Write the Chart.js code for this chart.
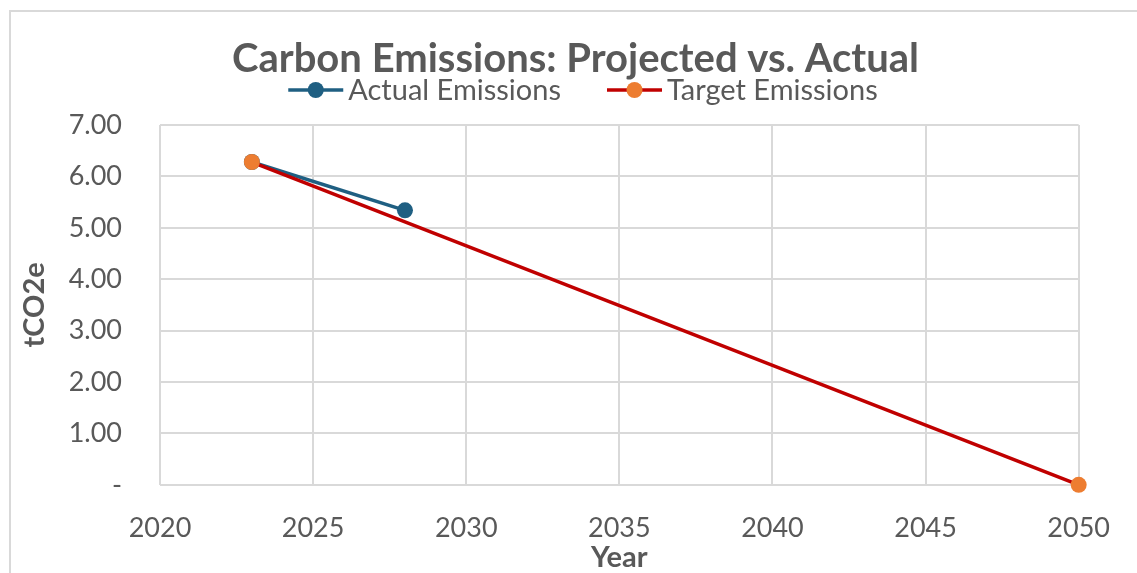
<!DOCTYPE html>
<html>
<head>
<meta charset="utf-8">
<script src="https://cdn.jsdelivr.net/npm/chart.js@4"></script>
<style>
  html, body { margin: 0; padding: 0; background: #fff; overflow: hidden; }
  #frame { position: absolute; left: 9px; top: 10px; width: 1300px; height: 800px; border: 2px solid #d9d9d9; }
  #wrap { position: absolute; left: 0; top: 0; width: 1137px; height: 573px; }
</style>
</head>
<body>
<div id="frame"></div>
<div id="wrap"><canvas id="emissionsChart"></canvas></div>
<script>
// chart data
const actualYears = [2023, 2028];
const actualValues = [6.28, 5.34];
const targetYears = [2023, 2050];
const targetValues = [6.28, 0];

const blue = '#1f5f82';
const red = '#c00000';
const orange = '#ed7d31';
const textGray = '#595959';
const gridGray = '#d9d9d9';

const toPoints = (xs, ys) => xs.map((x, i) => ({ x: x, y: ys[i] }));

// Excel style legend: line with a dot, drawn under the title
const lineLegend = {
    id: 'lineLegend',
    afterDraw(chart) {
        const c = chart.ctx;
        const items = [
            { text: 'Actual Emissions', line: blue, dot: blue },
            { text: 'Target Emissions', line: red, dot: orange }
        ];
        const markW = 55, textGap = 5, itemGap = 46;
        c.save();
        c.font = '29px Lato';
        const widths = items.map(it => markW + textGap + c.measureText(it.text).width);
        const total = widths.reduce((a, b) => a + b, 0) + itemGap * (items.length - 1);
        let x = 583 - total / 2;
        const y = 90;
        items.forEach((it, i) => {
            c.strokeStyle = it.line;
            c.lineWidth = 3.5;
            c.beginPath();
            c.moveTo(x, y);
            c.lineTo(x + markW, y);
            c.stroke();
            c.fillStyle = it.dot;
            c.beginPath();
            c.arc(x + markW / 2, y, 8, 0, Math.PI * 2);
            c.fill();
            c.fillStyle = textGray;
            c.textBaseline = 'middle';
            c.textAlign = 'left';
            c.fillText(it.text, x + markW + textGap, y + 1);
            x += widths[i] + itemGap;
        });
        c.restore();
    }
};

const ctx = document.getElementById('emissionsChart').getContext('2d');
new Chart(ctx, {
    type: 'line',
    data: {
        datasets: [{
            label: 'Actual Emissions',
            data: toPoints(actualYears, actualValues),
            borderColor: blue,
            backgroundColor: blue,
            borderWidth: 3.5,
            pointRadius: 8,
            pointBorderWidth: 0,
            clip: false,
            order: 2
        }, {
            label: 'Target Emissions',
            data: toPoints(targetYears, targetValues),
            borderColor: red,
            backgroundColor: orange,
            pointBackgroundColor: orange,
            borderWidth: 3.5,
            pointRadius: 8,
            pointBorderWidth: 0,
            clip: false,
            order: 1
        }]
    },
    options: {
        responsive: true,
        maintainAspectRatio: false,
        animation: false,
        layout: { padding: { left: 64, right: 50, top: 35, bottom: 0 } },
        plugins: {
            title: {
                display: true,
                text: 'Carbon Emissions: Projected vs. Actual',
                color: textGray,
                font: { family: 'Lato', size: 40, weight: 'bold' },
                padding: { top: 0, bottom: 42 }
            },
            legend: { display: false },
            tooltip: { enabled: false }
        },
        scales: {
            x: {
                type: 'linear',
                min: 2020,
                max: 2050,
                ticks: {
                    stepSize: 5,
                    color: textGray,
                    font: { family: 'Lato', size: 27 },
                    padding: 27,
                    callback: v => String(v)
                },
                grid: { color: gridGray, lineWidth: 2, drawTicks: false },
                border: { display: false },
                title: {
                    display: true,
                    text: 'Year',
                    color: textGray,
                    font: { family: 'Lato', size: 29, weight: 'bold' },
                    padding: { top: -31, bottom: -2 }
                }
            },
            y: {
                min: 0,
                max: 7,
                afterFit: scale => { scale.width = 96; },
                ticks: {
                    stepSize: 1,
                    color: textGray,
                    font: { family: 'Lato', size: 27 },
                    padding: 38,
                    callback: v => v === 0 ? '-' : v.toFixed(2)
                },
                grid: { color: gridGray, lineWidth: 2, drawTicks: false },
                border: { display: false },
                title: {
                    display: true,
                    text: 'tCO2e',
                    color: textGray,
                    font: { family: 'Lato', size: 29, weight: 'bold' },
                    padding: { top: -47, bottom: 0 }
                }
            }
        }
    },
    plugins: [lineLegend]
});
</script>
</body>
</html>
